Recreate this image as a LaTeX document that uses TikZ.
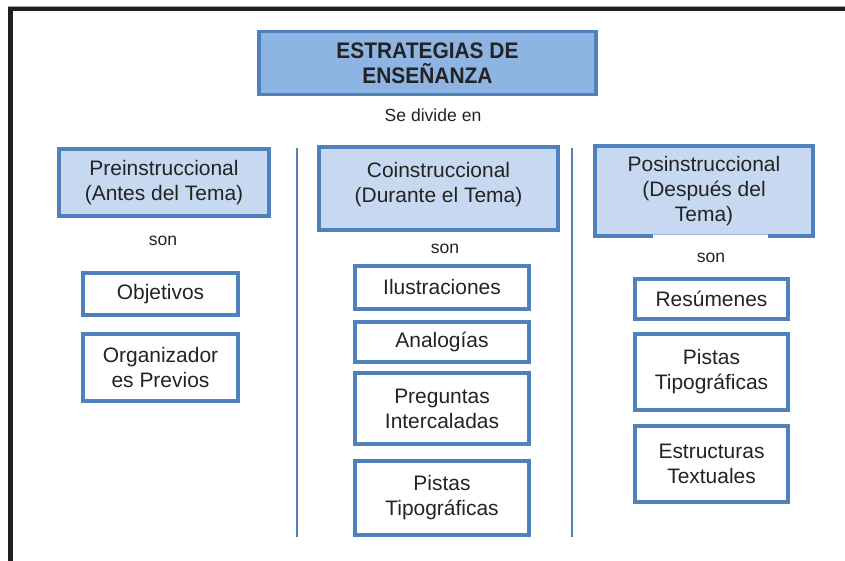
\documentclass[tikz,border=0pt]{standalone}
\usepackage{fontspec}
\setmainfont{Liberation Sans}
\newfontfamily\titlefont[FakeStretch=0.93]{Liberation Sans}
\usetikzlibrary{positioning, calc}
\definecolor{edgeblue}{RGB}{79,129,189}
\definecolor{paleblue}{RGB}{198,217,241}
\definecolor{headblue}{RGB}{141,180,226}
\definecolor{inkgray}{RGB}{35,35,35}

\begin{document}
\begin{tikzpicture}[
    x=0.025cm, y=-0.025cm,
    node distance=0.3cm,
    phase/.style={rectangle, draw=edgeblue, line width=2.8pt, fill=paleblue, align=center, text=inkgray, font=\fontsize{14.9}{17.8}\selectfont},
    item/.style={rectangle, draw=edgeblue, line width=2.8pt, fill=white, align=center, text=inkgray, font=\fontsize{14.9}{17.8}\selectfont},
    tag/.style={text=inkgray, font=\fontsize{12.5}{15}\selectfont, inner sep=0pt},
    divider/.style={draw=edgeblue, line width=1.4pt}
]

    \useasboundingbox (0,0) rectangle (845,560);
    \clip (0,0) rectangle (845,560);

    % outer frame
    \draw[black!35, line width=0.6pt] (8,6.3) -- (900,6.3);
    \draw[black!88, line width=2.9pt] (10.5,900) |- (900,9);

    % header
    \node[phase, fill=headblue, minimum width=8.425cm, minimum height=1.575cm, font=\titlefont\bfseries\fontsize{16}{18}\selectfont] (title) at (427.5,63) {ESTRATEGIAS DE\\ENSEÑANZA};
    \node[tag] (divide) at (433,115) {Se divide en};

    % three phases
    \node[phase, minimum width=5.25cm, minimum height=1.675cm] (pre) at (164,182.5) {Preinstruccional\\(Antes del Tema)};
    \node[phase, minimum width=5.975cm, minimum height=2.075cm, text depth=0.3cm] (co) at (438.5,188.5) {Coinstruccional\\(Durante el Tema)};
    \node[phase, minimum width=5.45cm, minimum height=2.25cm] (pos) at (704,191) {Posinstruccional\\(Después del\\Tema)};

    \draw[white, line width=2.9pt] ($(pos.south west)!0.27!(pos.south east)+(0,1.4pt)$) -- ($(pos.south west)!0.79!(pos.south east)+(0,1.4pt)$);
    \draw[edgeblue!55, line width=0.8pt] ($(pos.south west)!0.27!(pos.south east)+(0,2.6pt)$) -- ($(pos.south west)!0.79!(pos.south east)+(0,2.6pt)$);

    \node[tag] (sonpre) at (163,241) {son};
    \node[tag] (sonco) at (445,249) {son};
    \node[tag] (sonpos) at (711,258) {son};

    % column separators
    \draw[divider] (297,148) -- (297,537);
    \draw[divider] (572,148) -- (572,537);

    % preinstruccional
    \node[item, minimum width=3.875cm, minimum height=1.05cm] (obj) at (160.5,294) {Objetivos};
    \node[item, minimum width=3.875cm, minimum height=1.675cm, below=0.375cm of obj] (org) {Organizador\\es Previos};

    % coinstruccional
    \node[item, minimum width=4.35cm, minimum height=1.075cm] (ilus) at (442,287.5) {Ilustraciones};
    \node[item, minimum width=4.35cm, minimum height=1.0cm, below=0.225cm of ilus] (anal) {Analogías};
    \node[item, minimum width=4.35cm, minimum height=1.775cm, below=0.175cm of anal] (preg) {Preguntas\\Intercaladas};
    \node[item, minimum width=4.35cm, minimum height=1.85cm, below=0.325cm of preg] (pistco) {Pistas\\Tipográficas};

    % posinstruccional
    \node[item, minimum width=3.825cm, minimum height=1.0cm] (res) at (711.5,299) {Resúmenes};
    \node[item, minimum width=3.825cm, minimum height=1.9cm, below=0.275cm of res] (pistpos) {Pistas\\Tipográficas};
    \node[item, minimum width=3.825cm, minimum height=1.9cm, below=0.3cm of pistpos] (estr) {Estructuras\\Textuales};

\end{tikzpicture}
\end{document}
